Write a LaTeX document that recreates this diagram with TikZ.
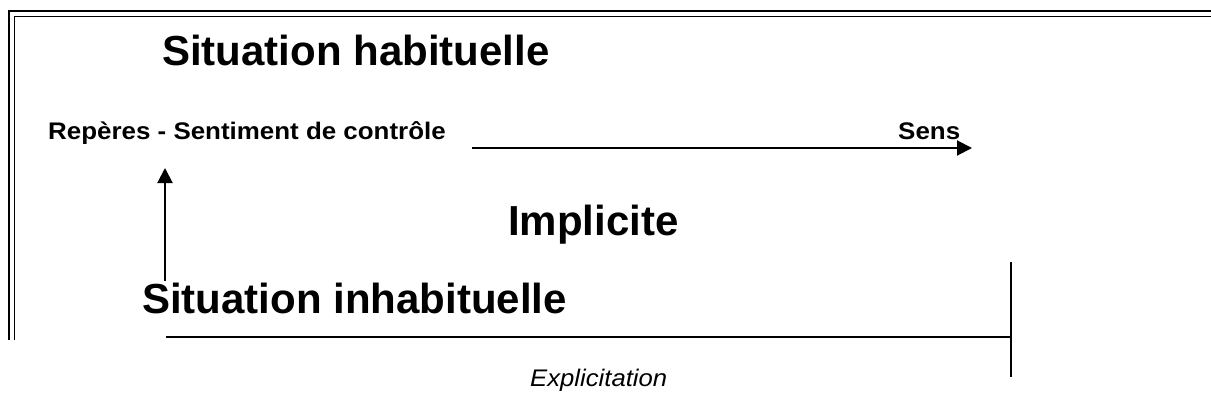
\documentclass[tikz,border=0pt]{standalone}
\usepackage{fontspec}
\setmainfont{Liberation Sans}
\usetikzlibrary{arrows.meta}
\tikzset{
  frameouter/.style={line width=2.4pt},
  frameinner/.style={line width=1.8pt},
  rule/.style={line width=2pt},
  arr/.style={line width=2pt,-{Triangle[length=15pt,width=15pt]}},
  title/.style={inner sep=0pt,anchor=base west,font=\fontsize{42}{44}\selectfont\bfseries},
  small/.style={inner sep=0pt,anchor=base west,xscale=1.08,font=\fontsize{24}{26}\selectfont\bfseries},
  note/.style={inner sep=0pt,anchor=base west,xscale=1.07,font=\fontsize{24}{26}\selectfont\itshape},
}
\begin{document}
\begin{tikzpicture}[x=1pt,y=-1pt]
\useasboundingbox (0,0) rectangle (1211,410);
% double frame along the top and the left side
\draw[frameouter] (9,340) -- (9,11) -- (1211,11);
\draw[frameinner] (14.5,340) -- (14.5,16.5) -- (1211,16.5);

% labels
\node[title] (hab) at (162,65) {Situation habituelle};
\node[small] (rep) at (48,139) {Repères - Sentiment de contrôle};
\node[small] (sens) at (898,139) {Sens};
\node[title] (impl) at (508,235) {Implicite};
\node[title] (inhab) at (142,313) {Situation inhabituelle};
\node[note] (expl) at (530,386) {Explicitation};

% arrows
\coordinate (upfoot) at (165,281);
\coordinate (uptip) at (165,168);
\coordinate (sensfoot) at (472,148);
\coordinate (senstip) at (972,148);
\draw[arr] (upfoot) -- (uptip);
\draw[arr] (sensfoot) -- (senstip);

% explicitation bar
\coordinate (barL) at (166,337);
\coordinate (barR) at (1011,337);
\coordinate (tickT) at (1011,262);
\coordinate (tickB) at (1011,377);
\draw[rule] (barL) -- (barR);
\draw[rule] (tickT) -- (tickB);
\end{tikzpicture}
\end{document}
